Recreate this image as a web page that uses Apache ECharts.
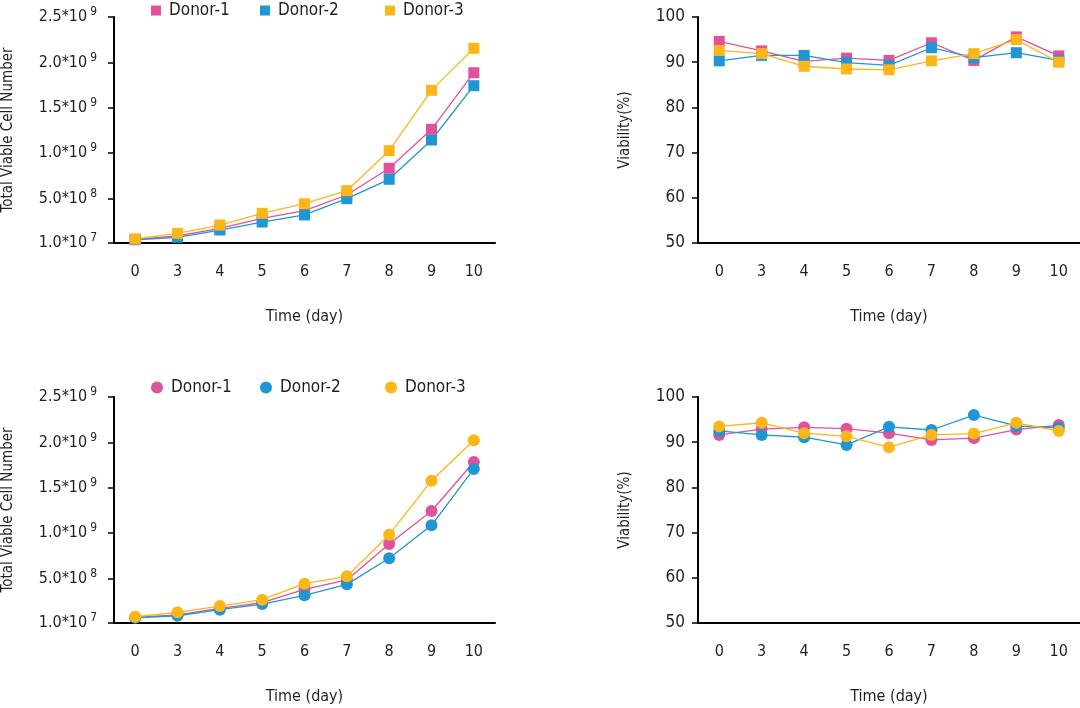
<!DOCTYPE html>
<html>
<head>
<meta charset="utf-8">
<script src="https://cdn.jsdelivr.net/npm/echarts@6/dist/echarts.min.js"></script>
<style>
html,body{margin:0;padding:0;background:#fff;}
#main{width:1080px;height:708px;}
</style>
</head>
<body>
<div id="main"></div>
<script>
// ---- data ----
const days = ['0', '3', '4', '5', '6', '7', '8', '9', '10'];
const donors = ['Donor-1', 'Donor-2', 'Donor-3'];
const colors = ['#e2519b', '#2196d4', '#fdb618'];

// Top row (square markers)
const cellsTop_D1 = [5.1e7, 8.7e7, 1.72e8, 2.82e8, 3.66e8, 5.39e8, 8.33e8, 1.263e9, 1.886e9];
const cellsTop_D2 = [4.6e7, 7.3e7, 1.53e8, 2.41e8, 3.19e8, 4.98e8, 7.12e8, 1.145e9, 1.743e9];
const cellsTop_D3 = [5.4e7, 1.17e8, 2.08e8, 3.37e8, 4.43e8, 5.86e8, 1.027e9, 1.692e9, 2.155e9];
const viabTop_D1 = [94.6, 92.5, 90.2, 90.9, 90.4, 94.3, 90.4, 95.6, 91.4];
const viabTop_D2 = [90.3, 91.5, 91.5, 89.9, 89.3, 93.2, 91.0, 92.1, 90.4];
const viabTop_D3 = [92.6, 91.9, 89.1, 88.5, 88.3, 90.3, 91.9, 95.0, 90.0];

// Bottom row (circle markers)
const cellsBot_D1 = [7.3e7, 9.8e7, 1.72e8, 2.34e8, 3.81e8, 4.84e8, 8.8e8, 1.244e9, 1.784e9];
const cellsBot_D2 = [6.8e7, 9.0e7, 1.57e8, 2.19e8, 3.15e8, 4.36e8, 7.23e8, 1.086e9, 1.707e9];
const cellsBot_D3 = [7.9e7, 1.28e8, 1.97e8, 2.67e8, 4.43e8, 5.24e8, 9.83e8, 1.578e9, 2.023e9];
const viabBot_D1 = [91.6, 92.9, 93.3, 93.0, 92.0, 90.5, 90.9, 92.8, 93.8];
const viabBot_D2 = [92.5, 91.6, 91.1, 89.4, 93.4, 92.7, 96.0, 93.6, 93.2];
const viabBot_D3 = [93.5, 94.3, 92.0, 91.3, 88.9, 91.6, 91.9, 94.3, 92.5];

// tick labels
const cellTicks = [1e7, 5e8, 1e9, 1.5e9, 2e9, 2.5e9];
const viabTicks = [50, 60, 70, 80, 90, 100];

// ---- style ----
const FONT = "'Liberation Sans Narrow', 'DejaVu Sans Condensed', 'Roboto', sans-serif";
const TXT = '#231f20';

function sciLabel(v) {
  const e = Math.floor(Math.log10(v) + 1e-9);
  const m = (v / Math.pow(10, e)).toFixed(1);
  return '{b|' + m + '*10}{s|' + e + '}';
}

function xAxis(gi) {
  return {
    type: 'category', gridIndex: gi, data: days, boundaryGap: true,
    axisLine: {lineStyle: {color: '#000', width: 2}},
    axisTick: {alignWithLabel: true, length: 6, lineStyle: {color: '#000', width: 1.5}},
    axisLabel: {color: TXT, fontFamily: FONT, fontSize: 16, margin: 21},
    name: 'Time (day)', nameLocation: 'middle', nameGap: 66,
    nameTextStyle: {color: TXT, fontFamily: FONT, fontSize: 16},
    splitLine: {show: false}
  };
}

function yCells(gi) {
  return {
    type: 'value', gridIndex: gi, min: 1e7, max: 2.5e9,
    axisLine: {show: true, lineStyle: {color: '#000', width: 2}},
    axisTick: {show: true, length: 6, customValues: cellTicks, lineStyle: {color: '#000', width: 1.5}},
    axisLabel: {
      customValues: cellTicks, margin: 17, formatter: sciLabel,
      rich: {
        b: {color: TXT, fontFamily: FONT, fontSize: 16},
        s: {color: TXT, fontFamily: FONT, fontSize: 12, verticalAlign: 'top', padding: [0, 0, 10, 3]}
      }
    },
    splitLine: {show: false},
    name: 'Total Viable Cell Number', nameLocation: 'middle', nameGap: 98,
    nameTextStyle: {color: TXT, fontFamily: FONT, fontSize: 15}
  };
}

function yViab(gi) {
  return {
    type: 'value', gridIndex: gi, min: 50, max: 100, interval: 10,
    axisLine: {show: true, lineStyle: {color: '#000', width: 2}},
    axisTick: {show: true, length: 6, lineStyle: {color: '#000', width: 1.5}},
    axisLabel: {color: TXT, fontFamily: FONT, fontSize: 17, margin: 13},
    splitLine: {show: false},
    name: 'Viability(%)', nameLocation: 'middle', nameGap: 65,
    nameTextStyle: {color: TXT, fontFamily: FONT, fontSize: 15}
  };
}

function series(name, data, gi, sym, ci) {
  return {
    type: 'line', name: name, data: data, xAxisIndex: gi, yAxisIndex: gi,
    symbol: sym, symbolSize: sym === 'rect' ? 11 : 12,
    showSymbol: true,
    lineStyle: {color: colors[ci], width: 1.3},
    itemStyle: {color: colors[ci], borderWidth: 0},
    animation: false
  };
}

function legends(top, icon) {
  const lefts = [146, 255, 380];
  return donors.map((d, i) => ({
    data: [d], left: lefts[i], top: top, icon: icon,
    itemWidth: icon === 'rect' ? 10 : 12, itemHeight: icon === 'rect' ? 10 : 12, itemGap: 0,
    textStyle: {color: TXT, fontFamily: FONT, fontSize: 17, padding: [0, 0, 0, 3]}
  }));
}

const option = {
  backgroundColor: '#fff',
  animation: false,
  legend: legends(-3, 'rect').concat(legends(374, 'circle')),
  grid: [
    {left: 114, top: 17, width: 381, height: 226},
    {left: 698, top: 17, width: 382, height: 226},
    {left: 114, top: 397, width: 381, height: 226},
    {left: 698, top: 397, width: 382, height: 226}
  ],
  xAxis: [xAxis(0), xAxis(1), xAxis(2), xAxis(3)],
  yAxis: [yCells(0), yViab(1), yCells(2), yViab(3)],
  series: [
    series('Donor-1', cellsTop_D1, 0, 'rect', 0),
    series('Donor-2', cellsTop_D2, 0, 'rect', 1),
    series('Donor-3', cellsTop_D3, 0, 'rect', 2),
    series('Donor-1', viabTop_D1, 1, 'rect', 0),
    series('Donor-2', viabTop_D2, 1, 'rect', 1),
    series('Donor-3', viabTop_D3, 1, 'rect', 2),
    series('Donor-1', cellsBot_D1, 2, 'circle', 0),
    series('Donor-2', cellsBot_D2, 2, 'circle', 1),
    series('Donor-3', cellsBot_D3, 2, 'circle', 2),
    series('Donor-1', viabBot_D1, 3, 'circle', 0),
    series('Donor-2', viabBot_D2, 3, 'circle', 1),
    series('Donor-3', viabBot_D3, 3, 'circle', 2)
  ]
};

const chart = echarts.init(document.getElementById('main'), null, {renderer: 'canvas'});
chart.setOption(option);
</script>
</body>
</html>
